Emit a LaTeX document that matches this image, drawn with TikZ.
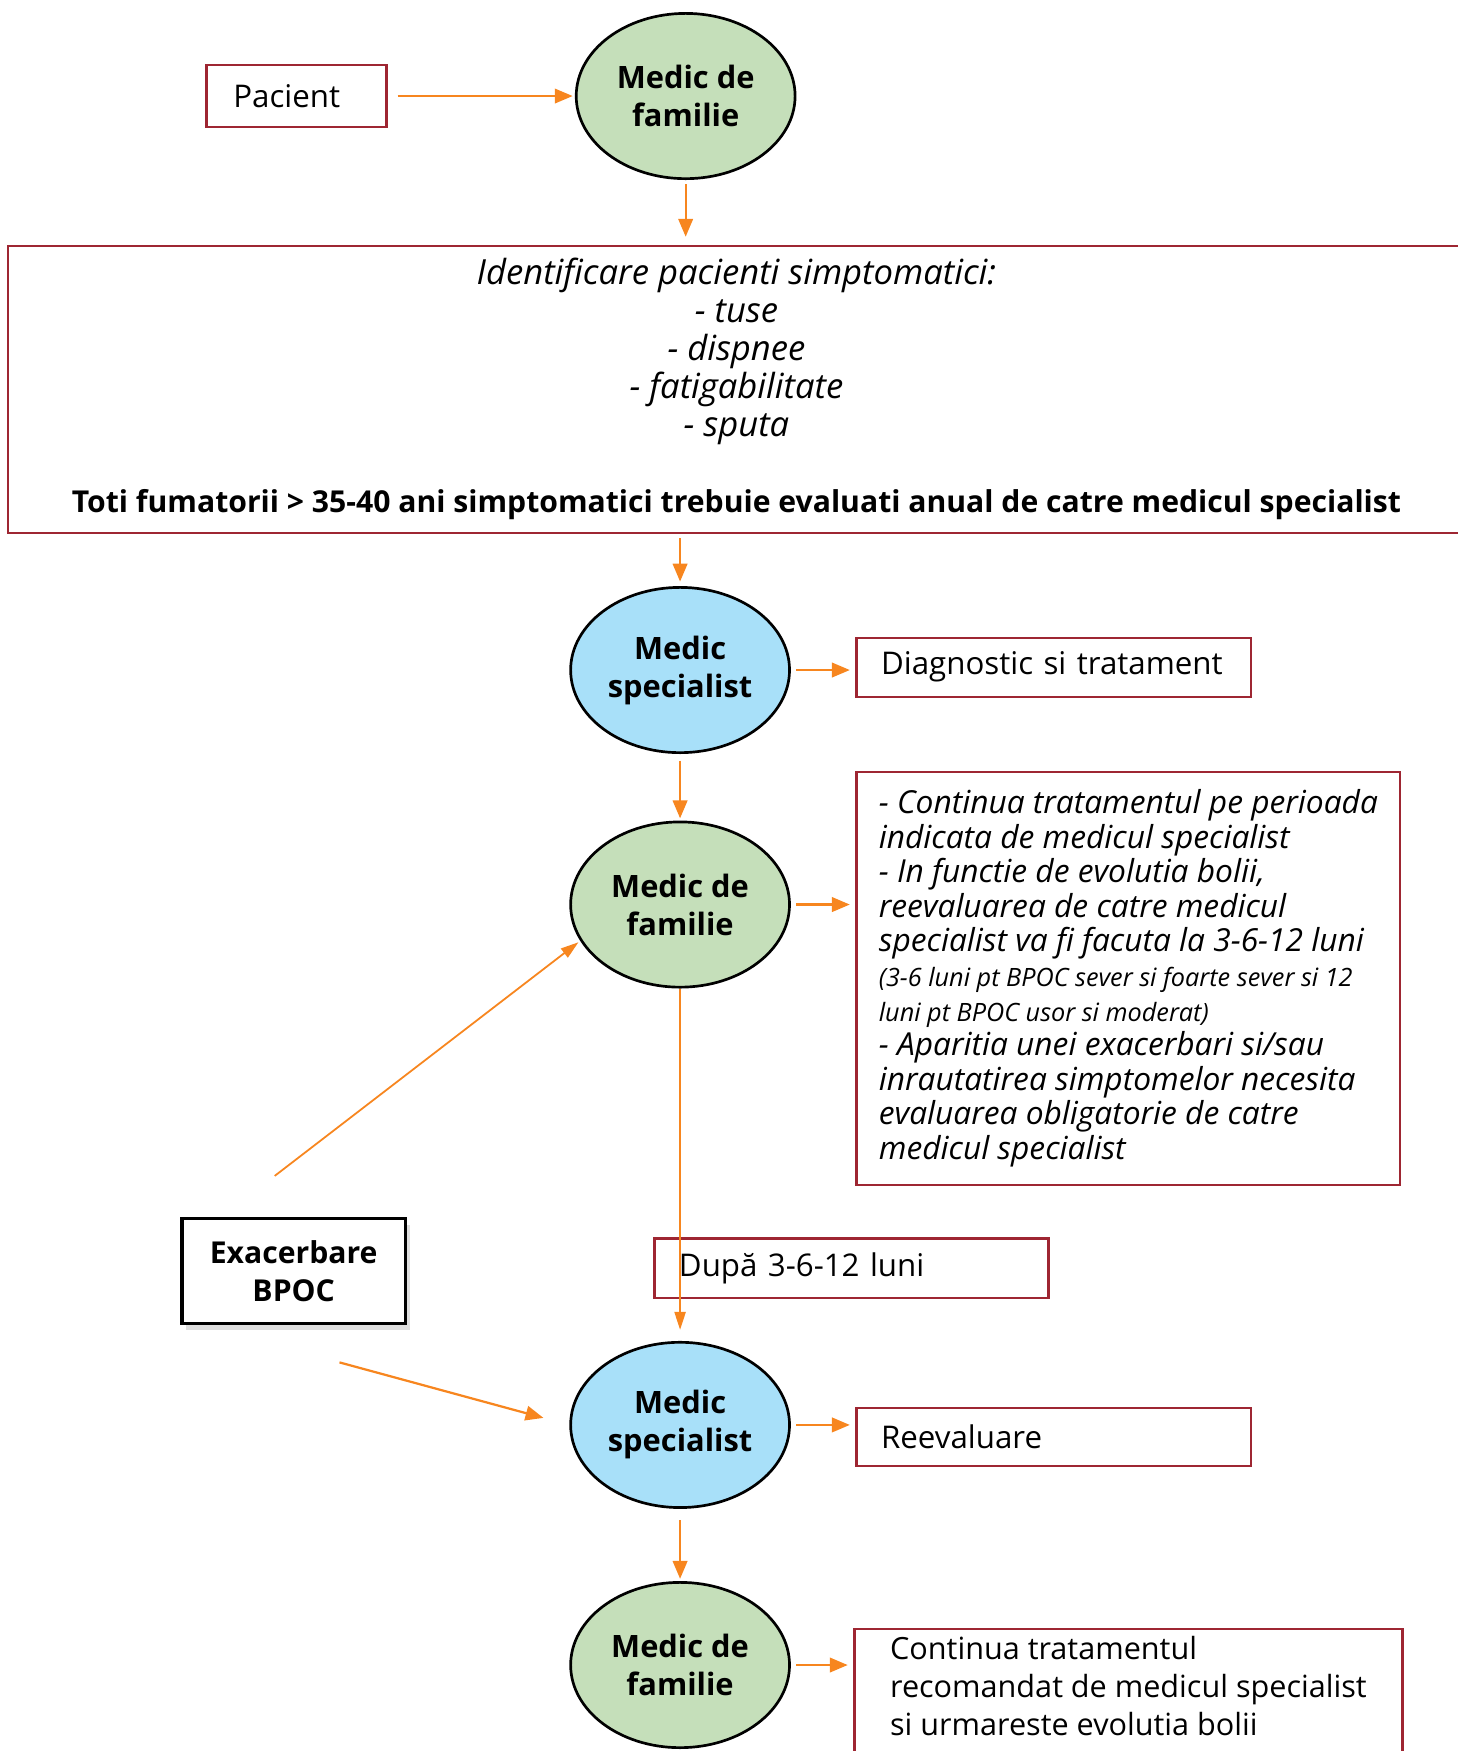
\documentclass[tikz,border=0pt]{standalone}
\usepackage{fontspec}
\setmainfont{Open Sans}
\usetikzlibrary{positioning,shapes.geometric,arrows.meta,shadows}
\definecolor{famgreen}{RGB}{197,223,186}
\definecolor{specblue}{RGB}{168,224,249}
\definecolor{floworange}{RGB}{247,134,31}
\definecolor{boxred}{RGB}{158,38,50}
\newcommand{\listsize}{\fontsize{15.5}{17.2}\selectfont\itshape}
\newcommand{\infosize}{\fontsize{14.2}{15.5}\selectfont\itshape}
\newcommand{\notesize}{\fontsize{11.3}{15.5}\selectfont\itshape}
\tikzset{
	famnode/.style={ellipse, draw, line width=1.2pt, fill=famgreen, minimum width=98pt, minimum height=74pt, inner sep=0pt, align=center, font=\fontsize{13.8}{17}\selectfont\bfseries},
	specnode/.style={famnode, fill=specblue},
	redbox/.style={draw=boxred, line width=1pt, fill=white, inner sep=0pt, align=left, font=\fontsize{14}{17}\selectfont},
	flow/.style={draw=floworange, line width=1pt, -{Triangle[length=8pt,width=6.5pt]}, shorten >=2pt, shorten <=2pt},
	thinflow/.style={flow, line width=0.8pt, -{Triangle[length=8pt,width=5pt]}},
}

\begin{document}
\begin{tikzpicture}[x=0.5pt, y=-0.5pt]
	\useasboundingbox (0,0) rectangle (1305,1568);
	\node[redbox, minimum width=80.5pt, minimum height=28pt, text width=56.5pt, inner xsep=12pt] (pac) at (265.5,86) {Pacient};
	\node[famnode] (fam1) at (614,86) {Medic de\\familie};
	\node[redbox, align=center, minimum width=652.5pt, minimum height=128.5pt] (ident) at (659.5,348.5) {\listsize Identificare pacienti simptomatici:\\ \listsize - tuse\\ \listsize - dispnee\\ \listsize - fatigabilitate\\ \listsize - sputa\\[17.2pt] \fontsize{13.5}{17.2}\selectfont\upshape\bfseries Toti fumatorii > 35-40 ani simptomatici trebuie evaluati anual de catre medicul specialist};
	\node[specnode] (spec1) at (609,600) {Medic\\specialist};
	\node[redbox, minimum width=176.5pt, minimum height=26.5pt, text width=154.5pt, inner xsep=11pt] (diag) at (943.5,597.5) {\mbox{Diagnostic si tratament}};
	\node[famnode] (fam2) at (609,810) {Medic de\\familie};
	\node[redbox, minimum width=243.5pt, minimum height=185pt, inner xsep=8pt, font=\infosize] (info) at (1010.5,876) {\infosize - Continua tratamentul pe perioada\\ \infosize indicata de medicul specialist\\ \infosize - In functie de evolutia bolii,\\ \infosize reevaluarea de catre medicul\\ \infosize specialist va fi facuta la 3-6-12 luni\\ \notesize (3-6 luni pt BPOC sever si foarte sever si 12\\ \notesize luni pt BPOC usor si moderat)\\ \infosize - Aparitia unei exacerbari si/sau\\ \infosize inrautatirea simptomelor necesita\\ \infosize evaluarea obligatorie de catre\\ \infosize medicul specialist};
	\node[redbox, minimum width=176.5pt, minimum height=26.5pt, text width=154.5pt, inner xsep=11pt] (dupa) at (762.5,1135.5) {\mbox{După 3-6-12 luni}};
	\node[draw, line width=1.5pt, fill=white, drop shadow={opacity=0.25, shadow xshift=2pt, shadow yshift=-3pt}, minimum width=100pt, minimum height=47pt, align=center, font=\fontsize{13.5}{17}\selectfont\bfseries] (exa) at (263,1138) {Exacerbare\\BPOC};
	\node[specnode] (spec2) at (609,1276) {Medic\\specialist};
	\node[redbox, minimum width=176.5pt, minimum height=26pt, text width=154.5pt, inner xsep=11pt] (reev) at (943.5,1287) {Reevaluare};
	\node[famnode] (fam3) at (609,1491) {Medic de\\familie};
	\node[redbox, anchor=north, minimum width=243.5pt, inner xsep=16pt, inner ysep=3pt, text depth=45pt, font=\fontsize{13.7}{17}\selectfont] (cont) at (1010.5,1458) {Continua tratamentul\\ recomandat de medicul specialist\\ si urmareste evolutia bolii};
	\coordinate (exaup) at (246,1053);
	\coordinate (exadown) at (304,1220);
	\draw[flow, shorten <=4.5pt, shorten >=1pt] (pac) -- (fam1);
	\draw[flow, shorten >=3.5pt] (fam1) -- (fam1 |- ident.north);
	\draw[flow] (spec1 |- ident.south) -- (spec1);
	\draw[flow, shorten <=3pt, shorten >=1pt] (spec1) -- (fam2);
	\draw[flow, shorten <=2.5pt, shorten >=2.5pt] (spec1.east) -- (spec1.east -| diag.west);
	\draw[flow, shorten <=2.5pt, shorten >=2.5pt] (fam2.east) -- (fam2.east -| info.west);
	\draw[thinflow, shorten <=0pt, shorten >=5pt] (fam2) -- (spec2);
	\draw[thinflow, shorten <=0pt, shorten >=1pt] (exaup) -- (fam2.200);
	\draw[flow, shorten <=0pt, shorten >=12pt] (exadown) -- (spec2.west);
	\draw[flow, shorten <=2.5pt, shorten >=2.5pt] (spec2.east) -- (spec2.east -| reev.west);
	\draw[flow, shorten <=5pt, shorten >=1pt] (spec2) -- (fam3);
	\draw[flow, shorten <=2.5pt, shorten >=2.5pt] (fam3.east) -- (fam3.east -| cont.west);
\end{tikzpicture}
\end{document}
